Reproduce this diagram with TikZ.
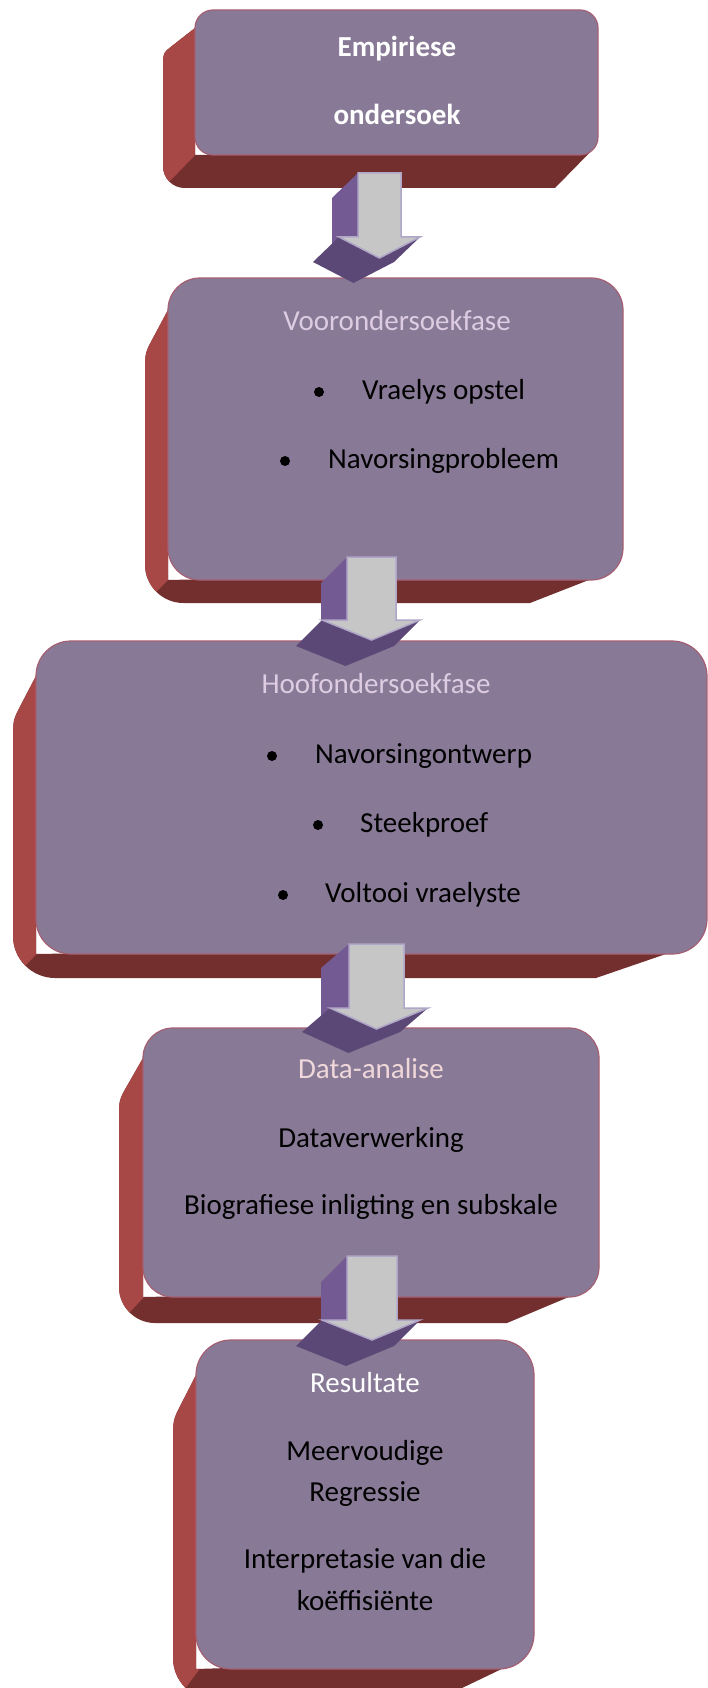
\documentclass[tikz,border=0pt]{standalone}
\usepackage{fontspec}
\setmainfont{Carlito}
\definecolor{frontc}{RGB}{136,122,150}
\definecolor{leftc}{RGB}{168,72,70}
\definecolor{bottomc}{RGB}{115,46,46}
\definecolor{borderc}{RGB}{165,95,115}
\definecolor{arrowfill}{RGB}{198,198,198}
\definecolor{arrowline}{RGB}{176,166,200}
\definecolor{arrowside}{RGB}{116,90,146}
\definecolor{arrowdark}{RGB}{92,72,118}
\definecolor{headA}{RGB}{222,204,226}
\definecolor{headB}{RGB}{240,216,218}
\tikzset{
  boxtext/.style={font=\fontsize{29}{35}\selectfont, inner sep=0pt, anchor=base},
  bullettext/.style={font=\fontsize{29}{35}\selectfont, inner sep=0pt, anchor=base west},
  bulletdot/.style={circle, fill=black, minimum size=10pt, inner sep=0pt},
}
% box: x1 y1 x2 y2 r L T B R
\newcommand{\tdbox}[9]{%
  \path[fill=bottomc] ({#1},{#2+#5}) -- ({#6+0.35*(#1-#6)},{#7-0.35*(#7-#2-#5)}) .. controls ({#6},{#7}) .. ({#6},{#7+0.6*#5}) -- ({#6},{#8-1.2*#5}) .. controls ({#6},{#8-0.54*#5}) and ({#6+0.54*#5},{#8}) .. ({#6+1.2*#5},{#8}) -- ({#9},{#8}) -- ({#3-0.3*#5},{#4-0.3*#5}) -- ({#1},{#4}) -- cycle;
  \begin{scope}
    \clip ({#1},{#2+#5}) -- ({#6+0.35*(#1-#6)},{#7-0.35*(#7-#2-#5)}) .. controls ({#6},{#7}) .. ({#6},{#7+0.6*#5}) -- ({#6},{#8-1.2*#5}) .. controls ({#6},{#8-0.54*#5}) and ({#6+0.54*#5},{#8}) .. ({#6+1.2*#5},{#8}) -- ({#9},{#8}) -- ({#3-0.3*#5},{#4-0.3*#5}) -- ({#1},{#4}) -- cycle;
    \fill[leftc] ({#1+2},{#2}) -- ({#6-40},{#2}) -- ({2*#6-#1+0.4*#5},{2*#8-#4-0.4*#5}) -- ({#1+0.4*#5},{#4-0.4*#5}) -- ({#1+2},{#4-0.4*#5}) -- cycle;
  \end{scope}
  \filldraw[fill=frontc, draw=borderc, line width=1.2pt, rounded corners=#5] ({#1},{#2}) rectangle ({#3},{#4});
}
% arrow: sx1 sx2 sy hy hx1 hx2 tipy dx dy
\newcommand{\blockarrow}[9]{%
  \fill[arrowside] ({#1},{#3}) -- ({#1+#8},{#3+#9}) -- ({#1+#8},{#4+#9}) -- ({#1},{#4}) -- cycle;
  \fill[arrowdark] ({#5},{#4}) -- ({#5+#8},{#4+#9}) -- ({(#1+#2)/2+#8},{#7+#9}) -- ({#6+#8},{#4+#9}) -- ({#6},{#4}) -- ({(#1+#2)/2},{#7}) -- cycle;
  \filldraw[fill=arrowfill, draw=arrowline, line width=1.5pt] ({#1},{#3}) -- ({#2},{#3}) -- ({#2},{#4}) -- ({#6},{#4}) -- ({(#1+#2)/2},{#7}) -- ({#5},{#4}) -- ({#1},{#4}) -- cycle;
}
\begin{document}
\begin{tikzpicture}[x=1pt,y=-1pt]
\useasboundingbox (0,0) rectangle (708,1688);
\clip (0,0) rectangle (708,1688);
\fill[white] (0,0) rectangle (708,1688);

\tdbox{195}{10}{598}{155}{18}{163}{53}{188}{555}
\tdbox{168}{278}{623}{580}{32}{145}{353}{603}{530}
\tdbox{36}{641}{707}{954}{35}{13}{720}{978}{596}
\tdbox{143}{1028}{599}{1297}{30}{119}{1100}{1323}{507}
\tdbox{196}{1340}{534}{1669}{35}{173}{1420}{1700}{437}

% box 1
\node[boxtext, text=white, font=\fontsize{29}{35}\selectfont\bfseries] (t1a) at (397,57) {Empiriese};
\node[boxtext, text=white, font=\fontsize{29}{35}\selectfont\bfseries] (t1b) at (397,125) {ondersoek};
% box 2
\node[boxtext, text=headA] (t2h) at (397,330) {Voorondersoekfase};
\node[bulletdot] (b2a) at (319,392) {};
\node[bullettext] (t2a) at (362,399) {Vraelys opstel};
\node[bulletdot] (b2b) at (285,461) {};
\node[bullettext] (t2b) at (328,468) {Navorsingprobleem};
% box 3
\node[boxtext, text=headA] (t3h) at (376,693) {Hoofondersoekfase};
\node[bulletdot] (b3a) at (272,756) {};
\node[bullettext] (t3a) at (315,763) {Navorsingontwerp};
\node[bulletdot] (b3b) at (318,825) {};
\node[bullettext] (t3b) at (360,832) {Steekproef};
\node[bulletdot] (b3c) at (283,895) {};
\node[bullettext] (t3c) at (325,902) {Voltooi vraelyste};
% box 4
\node[boxtext, text=headB] (t4h) at (371,1078) {Data-analise};
\node[boxtext] (t4a) at (371,1147) {Dataverwerking};
\node[boxtext] (t4b) at (371,1214) {Biografiese inligting en subskale};
% box 5
\node[boxtext, text=white] (t5h) at (365,1392) {Resultate};
\node[boxtext] (t5a) at (365,1460) {Meervoudige};
\node[boxtext] (t5b) at (365,1501) {Regressie};
\node[boxtext] (t5c) at (365,1568) {Interpretasie van die};
\node[boxtext] (t5d) at (365,1610) {koëffisiënte};

% arrows
\blockarrow{358}{401}{173}{237}{339}{420}{258}{-26}{25}
\blockarrow{347}{396}{557}{620}{322}{420}{640}{-26}{26}
\blockarrow{349}{404}{944}{1008}{330}{428}{1029}{-28}{24}
\blockarrow{347}{397}{1256}{1320}{322}{420}{1340}{-26}{26}
\end{tikzpicture}
\end{document}
